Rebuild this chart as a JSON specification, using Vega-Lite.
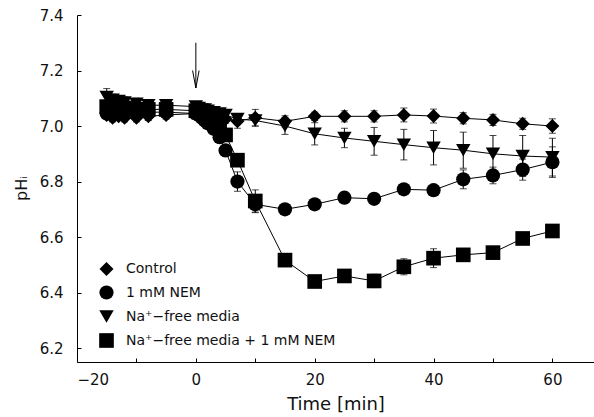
{
  "$schema": "https://vega.github.io/schema/vega-lite/v6.json",
  "width": 517,
  "height": 347,
  "autosize": {"type": "none"},
  "padding": {"left": 77, "top": 15, "right": 0, "bottom": 55},
  "background": "white",
  "config": {
    "view": {"stroke": null},
    "font": "DejaVu Sans",
    "axis": {
      "grid": false,
      "domainColor": "black",
      "domainWidth": 1,
      "tickColor": "black",
      "tickWidth": 1,
      "labelColor": "#111",
      "titleColor": "#111",
      "labelFont": "DejaVu Sans",
      "titleFont": "DejaVu Sans",
      "labelFontSize": 15,
      "titleFontWeight": "normal"
    },
    "legend": {
      "labelFont": "DejaVu Sans",
      "labelFontSize": 14,
      "labelColor": "#111",
      "labelLimit": 0
    }
  },
  "datasets": {
    "ph": [
      {"s": "Na⁺−free media", "t": -15, "v": 7.105, "e": 0.03},
      {"s": "Na⁺−free media", "t": -14, "v": 7.095, "e": 0.02},
      {"s": "Na⁺−free media", "t": -13, "v": 7.09, "e": 0.02},
      {"s": "Na⁺−free media", "t": -12, "v": 7.085, "e": 0.02},
      {"s": "Na⁺−free media", "t": -10, "v": 7.08, "e": 0.02},
      {"s": "Na⁺−free media", "t": -8, "v": 7.075, "e": 0.02},
      {"s": "Na⁺−free media", "t": -5, "v": 7.075, "e": 0.02},
      {"s": "Na⁺−free media", "t": 0, "v": 7.07, "e": 0.015},
      {"s": "Na⁺−free media", "t": 0.5, "v": 7.065, "e": 0.015},
      {"s": "Na⁺−free media", "t": 1, "v": 7.06, "e": 0.015},
      {"s": "Na⁺−free media", "t": 1.5, "v": 7.06, "e": 0.015},
      {"s": "Na⁺−free media", "t": 2, "v": 7.055, "e": 0.015},
      {"s": "Na⁺−free media", "t": 3, "v": 7.05, "e": 0.015},
      {"s": "Na⁺−free media", "t": 4, "v": 7.045, "e": 0.015},
      {"s": "Na⁺−free media", "t": 5, "v": 7.04, "e": 0.015},
      {"s": "Na⁺−free media", "t": 7, "v": 7.025, "e": 0.02},
      {"s": "Na⁺−free media", "t": 10, "v": 7.02, "e": 0.02},
      {"s": "Na⁺−free media", "t": 15, "v": 7.0, "e": 0.03},
      {"s": "Na⁺−free media", "t": 20, "v": 6.972, "e": 0.04},
      {"s": "Na⁺−free media", "t": 25, "v": 6.957, "e": 0.035},
      {"s": "Na⁺−free media", "t": 30, "v": 6.945, "e": 0.05},
      {"s": "Na⁺−free media", "t": 35, "v": 6.933, "e": 0.055},
      {"s": "Na⁺−free media", "t": 40, "v": 6.922, "e": 0.062},
      {"s": "Na⁺−free media", "t": 45, "v": 6.913, "e": 0.065},
      {"s": "Na⁺−free media", "t": 50, "v": 6.9, "e": 0.066},
      {"s": "Na⁺−free media", "t": 55, "v": 6.892, "e": 0.074},
      {"s": "Na⁺−free media", "t": 60, "v": 6.888, "e": 0.068},

      {"s": "Na⁺−free media + 1 mM NEM", "t": -15, "v": 7.07, "e": 0.02},
      {"s": "Na⁺−free media + 1 mM NEM", "t": -14, "v": 7.07, "e": 0.015},
      {"s": "Na⁺−free media + 1 mM NEM", "t": -13, "v": 7.065, "e": 0.015},
      {"s": "Na⁺−free media + 1 mM NEM", "t": -12, "v": 7.065, "e": 0.015},
      {"s": "Na⁺−free media + 1 mM NEM", "t": -10, "v": 7.06, "e": 0.015},
      {"s": "Na⁺−free media + 1 mM NEM", "t": -8, "v": 7.06, "e": 0.015},
      {"s": "Na⁺−free media + 1 mM NEM", "t": -5, "v": 7.06, "e": 0.015},
      {"s": "Na⁺−free media + 1 mM NEM", "t": 0, "v": 7.055, "e": 0.015},
      {"s": "Na⁺−free media + 1 mM NEM", "t": 0.5, "v": 7.05, "e": 0.015},
      {"s": "Na⁺−free media + 1 mM NEM", "t": 1, "v": 7.045, "e": 0.015},
      {"s": "Na⁺−free media + 1 mM NEM", "t": 1.5, "v": 7.04, "e": 0.015},
      {"s": "Na⁺−free media + 1 mM NEM", "t": 2, "v": 7.03, "e": 0.015},
      {"s": "Na⁺−free media + 1 mM NEM", "t": 3, "v": 7.02, "e": 0.015},
      {"s": "Na⁺−free media + 1 mM NEM", "t": 4, "v": 7.0, "e": 0.015},
      {"s": "Na⁺−free media + 1 mM NEM", "t": 5, "v": 6.968, "e": 0.02},
      {"s": "Na⁺−free media + 1 mM NEM", "t": 7, "v": 6.877, "e": 0.02},
      {"s": "Na⁺−free media + 1 mM NEM", "t": 10, "v": 6.73, "e": 0.04},
      {"s": "Na⁺−free media + 1 mM NEM", "t": 15, "v": 6.517, "e": 0.01},
      {"s": "Na⁺−free media + 1 mM NEM", "t": 20, "v": 6.44, "e": 0.01},
      {"s": "Na⁺−free media + 1 mM NEM", "t": 25, "v": 6.46, "e": 0.01},
      {"s": "Na⁺−free media + 1 mM NEM", "t": 30, "v": 6.442, "e": 0.024},
      {"s": "Na⁺−free media + 1 mM NEM", "t": 35, "v": 6.493, "e": 0.029},
      {"s": "Na⁺−free media + 1 mM NEM", "t": 40, "v": 6.524, "e": 0.034},
      {"s": "Na⁺−free media + 1 mM NEM", "t": 45, "v": 6.536, "e": 0.01},
      {"s": "Na⁺−free media + 1 mM NEM", "t": 50, "v": 6.544, "e": 0.01},
      {"s": "Na⁺−free media + 1 mM NEM", "t": 55, "v": 6.595, "e": 0.01},
      {"s": "Na⁺−free media + 1 mM NEM", "t": 60, "v": 6.622, "e": 0.01},

      {"s": "1 mM NEM", "t": -15, "v": 7.045, "e": 0.015},
      {"s": "1 mM NEM", "t": -14, "v": 7.05, "e": 0.015},
      {"s": "1 mM NEM", "t": -13, "v": 7.045, "e": 0.015},
      {"s": "1 mM NEM", "t": -12, "v": 7.05, "e": 0.015},
      {"s": "1 mM NEM", "t": -10, "v": 7.05, "e": 0.015},
      {"s": "1 mM NEM", "t": -8, "v": 7.05, "e": 0.015},
      {"s": "1 mM NEM", "t": -5, "v": 7.05, "e": 0.015},
      {"s": "1 mM NEM", "t": 0, "v": 7.045, "e": 0.015},
      {"s": "1 mM NEM", "t": 0.5, "v": 7.04, "e": 0.015},
      {"s": "1 mM NEM", "t": 1, "v": 7.03, "e": 0.015},
      {"s": "1 mM NEM", "t": 1.5, "v": 7.02, "e": 0.015},
      {"s": "1 mM NEM", "t": 2, "v": 7.01, "e": 0.015},
      {"s": "1 mM NEM", "t": 3, "v": 6.99, "e": 0.015},
      {"s": "1 mM NEM", "t": 4, "v": 6.96, "e": 0.015},
      {"s": "1 mM NEM", "t": 5, "v": 6.912, "e": 0.02},
      {"s": "1 mM NEM", "t": 7, "v": 6.8, "e": 0.035},
      {"s": "1 mM NEM", "t": 10, "v": 6.718, "e": 0.03},
      {"s": "1 mM NEM", "t": 15, "v": 6.7, "e": 0.015},
      {"s": "1 mM NEM", "t": 20, "v": 6.718, "e": 0.015},
      {"s": "1 mM NEM", "t": 25, "v": 6.742, "e": 0.015},
      {"s": "1 mM NEM", "t": 30, "v": 6.738, "e": 0.015},
      {"s": "1 mM NEM", "t": 35, "v": 6.772, "e": 0.015},
      {"s": "1 mM NEM", "t": 40, "v": 6.769, "e": 0.015},
      {"s": "1 mM NEM", "t": 45, "v": 6.808, "e": 0.034},
      {"s": "1 mM NEM", "t": 50, "v": 6.822, "e": 0.03},
      {"s": "1 mM NEM", "t": 55, "v": 6.843, "e": 0.038},
      {"s": "1 mM NEM", "t": 60, "v": 6.87, "e": 0.055},

      {"s": "Control", "t": -15, "v": 7.04, "e": 0.015},
      {"s": "Control", "t": -14, "v": 7.03, "e": 0.015},
      {"s": "Control", "t": -13, "v": 7.035, "e": 0.015},
      {"s": "Control", "t": -12, "v": 7.03, "e": 0.015},
      {"s": "Control", "t": -10, "v": 7.03, "e": 0.015},
      {"s": "Control", "t": -8, "v": 7.035, "e": 0.015},
      {"s": "Control", "t": -5, "v": 7.04, "e": 0.015},
      {"s": "Control", "t": 0, "v": 7.045, "e": 0.015},
      {"s": "Control", "t": 0.5, "v": 7.04, "e": 0.015},
      {"s": "Control", "t": 1, "v": 7.04, "e": 0.015},
      {"s": "Control", "t": 1.5, "v": 7.035, "e": 0.015},
      {"s": "Control", "t": 2, "v": 7.035, "e": 0.015},
      {"s": "Control", "t": 3, "v": 7.03, "e": 0.015},
      {"s": "Control", "t": 4, "v": 7.03, "e": 0.015},
      {"s": "Control", "t": 5, "v": 7.025, "e": 0.015},
      {"s": "Control", "t": 7, "v": 7.017, "e": 0.025},
      {"s": "Control", "t": 10, "v": 7.03, "e": 0.03},
      {"s": "Control", "t": 15, "v": 7.017, "e": 0.02},
      {"s": "Control", "t": 20, "v": 7.035, "e": 0.015},
      {"s": "Control", "t": 25, "v": 7.035, "e": 0.02},
      {"s": "Control", "t": 30, "v": 7.035, "e": 0.02},
      {"s": "Control", "t": 35, "v": 7.04, "e": 0.025},
      {"s": "Control", "t": 40, "v": 7.036, "e": 0.025},
      {"s": "Control", "t": 45, "v": 7.028, "e": 0.02},
      {"s": "Control", "t": 50, "v": 7.022, "e": 0.02},
      {"s": "Control", "t": 55, "v": 7.008, "e": 0.02},
      {"s": "Control", "t": 60, "v": 7.0, "e": 0.026}
    ],
    "arrowShaft": [{"t": 0, "top": 7.3, "tip": 7.137}],
    "arrowHead": [
      {"t": -0.55, "v": 7.2, "k": 0},
      {"t": 0, "v": 7.137, "k": 1},
      {"t": 0.55, "v": 7.2, "k": 2}
    ]
  },
  "layer": [
    {
      "data": {"name": "ph"},
      "mark": {"type": "line", "color": "black", "strokeWidth": 1},
      "encoding": {
        "x": {
          "field": "t", "type": "quantitative", "title": "Time [min]",
          "scale": {"domain": [-20, 67], "nice": false, "zero": false},
          "axis": {
            "values": [-20, -10, 0, 10, 20, 30, 40, 50, 60],
            "labelExpr": "datum.value % 20 == 0 ? datum.label : ''",
            "tickSize": -4,
            "labelPadding": 14,
            "titleFontSize": 18,
            "titleY": 42,
            "titleBaseline": "middle"
          }
        },
        "y": {
          "field": "v", "type": "quantitative", "title": "pHᵢ",
          "scale": {"domain": [6.15, 7.4], "nice": false, "zero": false},
          "axis": {
            "values": [6.2, 6.3, 6.4, 6.5, 6.6, 6.7, 6.8, 6.9, 7.0, 7.1, 7.2, 7.3, 7.4],
            "format": ".1f",
            "labelExpr": "round(datum.value * 10) % 2 == 0 ? datum.label : ''",
            "tickSize": -4,
            "labelPadding": 18,
            "titleFontSize": 16,
            "titleAngle": 270,
            "titleX": -56,
            "titleY": 173,
            "titleAlign": "center",
            "titleBaseline": "middle"
          }
        },
        "detail": {"field": "s"},
        "order": {"field": "t"}
      }
    },
    {
      "data": {"name": "ph"},
      "mark": {"type": "errorbar", "color": "black", "thickness": 1, "ticks": {"size": 7, "thickness": 1, "color": "black"}},
      "encoding": {
        "x": {"field": "t", "type": "quantitative", "title": "Time [min]"},
        "y": {"field": "v", "type": "quantitative", "title": "pHᵢ"},
        "yError": {"field": "e"},
        "detail": {"field": "s"}
      }
    },
    {
      "data": {"name": "ph"},
      "mark": {"type": "point", "filled": true, "color": "black", "opacity": 1, "strokeWidth": 0},
      "encoding": {
        "x": {"field": "t", "type": "quantitative", "title": "Time [min]"},
        "y": {"field": "v", "type": "quantitative", "title": "pHᵢ"},
        "shape": {
          "field": "s", "type": "nominal", "title": null,
          "scale": {
            "domain": ["Control", "1 mM NEM", "Na⁺−free media", "Na⁺−free media + 1 mM NEM"],
            "range": ["diamond", "circle", "triangle-down", "square"]
          },
          "legend": {
            "orient": "none",
            "legendX": 22,
            "legendY": 247,
            "symbolFillColor": "black",
            "symbolStrokeWidth": 0,
            "labelOffset": 12,
            "rowPadding": 9
          }
        },
        "size": {
          "field": "s", "type": "nominal", "title": null,
          "scale": {
            "domain": ["Control", "1 mM NEM", "Na⁺−free media", "Na⁺−free media + 1 mM NEM"],
            "range": [196, 215, 190, 125]
          },
          "legend": {
            "orient": "none",
            "legendX": 22,
            "legendY": 247,
            "symbolFillColor": "black",
            "symbolStrokeWidth": 0,
            "labelOffset": 12,
            "rowPadding": 9
          }
        }
      }
    },
    {
      "data": {"name": "arrowShaft"},
      "mark": {"type": "rule", "color": "black", "strokeWidth": 1},
      "encoding": {
        "x": {"field": "t", "type": "quantitative", "title": "Time [min]"},
        "y": {"field": "top", "type": "quantitative", "title": "pHᵢ"},
        "y2": {"field": "tip"}
      }
    },
    {
      "data": {"name": "arrowHead"},
      "mark": {"type": "line", "color": "black", "strokeWidth": 1},
      "encoding": {
        "x": {"field": "t", "type": "quantitative", "title": "Time [min]"},
        "y": {"field": "v", "type": "quantitative", "title": "pHᵢ"},
        "order": {"field": "k"}
      }
    }
  ]
}
